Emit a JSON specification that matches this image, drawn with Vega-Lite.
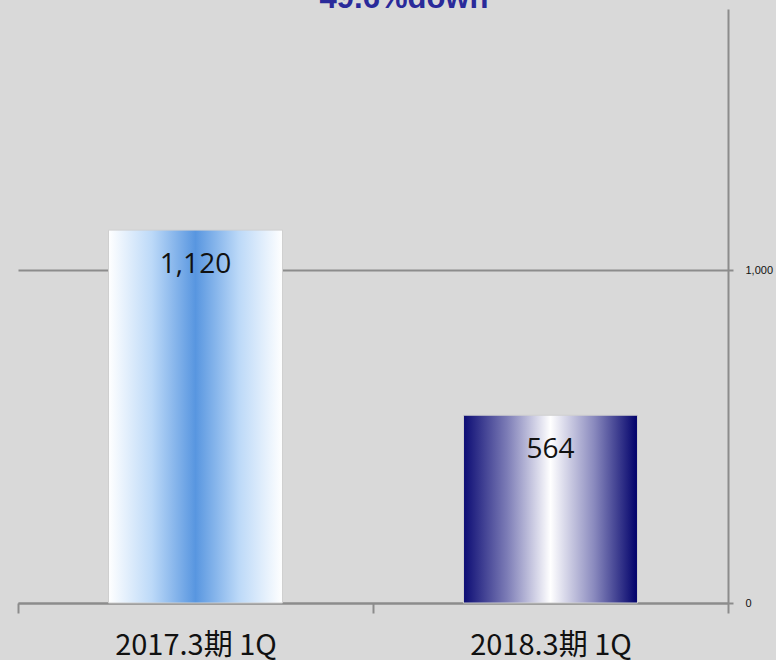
{
  "$schema": "https://vega.github.io/schema/vega-lite/v6.json",
  "width": 710,
  "height": 594,
  "autosize": {"type": "none"},
  "padding": {"left": 18, "top": 9, "right": 48, "bottom": 57},
  "background": "#d9d9d9",
  "config": {"view": {"stroke": null}},
  "title": {
    "text": "49.6%down",
    "font": "Liberation Sans",
    "fontSize": 31,
    "fontWeight": "bold",
    "color": "#2a2a9a",
    "anchor": "middle",
    "frame": "group",
    "offset": -30,
    "baseline": "alphabetic",
    "dx": 31
  },
  "data": {
    "values": [
      {"period": "2017.3期 1Q", "value": 1120, "label": "1,120"},
      {"period": "2018.3期 1Q", "value": 564, "label": "564"}
    ]
  },
  "encoding": {
    "x": {
      "field": "period",
      "type": "nominal",
      "sort": null,
      "scale": {"paddingInner": 0, "paddingOuter": 0},
      "axis": {
        "title": null,
        "labelAngle": 0,
        "tickBand": "extent",
        "domainColor": "#8c8c8c",
        "domainWidth": 2,
        "tickColor": "#8c8c8c",
        "tickWidth": 2,
        "tickSize": 10,
        "labelFontSize": 29,
        "labelFont": "Noto Sans CJK JP",
        "labelColor": "#111111",
        "labelBaseline": "alphabetic",
        "labelPadding": 41,
        "grid": false
      }
    },
    "y": {
      "field": "value",
      "type": "quantitative",
      "scale": {"domain": [0, 1784], "nice": false},
      "axis": {
        "title": null,
        "orient": "right",
        "values": [0, 1000],
        "format": ",.0f",
        "domainColor": "#8c8c8c",
        "domainWidth": 2,
        "tickColor": "#8c8c8c",
        "tickWidth": 2,
        "tickSize": 5,
        "labelFontSize": 11,
        "labelFont": "Liberation Sans",
        "labelColor": "#111111",
        "labelPadding": 12,
        "grid": true,
        "gridColor": "#8c8c8c",
        "gridWidth": 2,
        "gridOpacity": 1
      }
    }
  },
  "layer": [
    {
      "transform": [{"filter": "datum.period === '2017.3期 1Q'"}],
      "mark": {
        "type": "bar",
        "width": {"band": 0.49},
        "stroke": "#cfcfcf",
        "strokeWidth": 1,
        "color": {
          "gradient": "linear",
          "x1": 0, "y1": 0, "x2": 1, "y2": 0,
          "stops": [
            {"offset": 0, "color": "#ffffff"},
            {"offset": 0.25, "color": "#bcd9f8"},
            {"offset": 0.5, "color": "#5896e0"},
            {"offset": 0.75, "color": "#bcd9f8"},
            {"offset": 1, "color": "#ffffff"}
          ]
        }
      }
    },
    {
      "transform": [{"filter": "datum.period === '2018.3期 1Q'"}],
      "mark": {
        "type": "bar",
        "width": {"band": 0.49},
        "stroke": "#cfcfcf",
        "strokeWidth": 1,
        "color": {
          "gradient": "linear",
          "x1": 0, "y1": 0, "x2": 1, "y2": 0,
          "stops": [
            {"offset": 0, "color": "#0c0c74"},
            {"offset": 0.25, "color": "#7c7cb6"},
            {"offset": 0.5, "color": "#ffffff"},
            {"offset": 0.75, "color": "#8a8abe"},
            {"offset": 1, "color": "#00006a"}
          ]
        }
      }
    },
    {
      "mark": {
        "type": "text",
        "baseline": "alphabetic",
        "dy": 43,
        "fontSize": 28,
        "font": "Open Sans",
        "color": "#111111"
      },
      "encoding": {"text": {"field": "label"}}
    }
  ]
}
